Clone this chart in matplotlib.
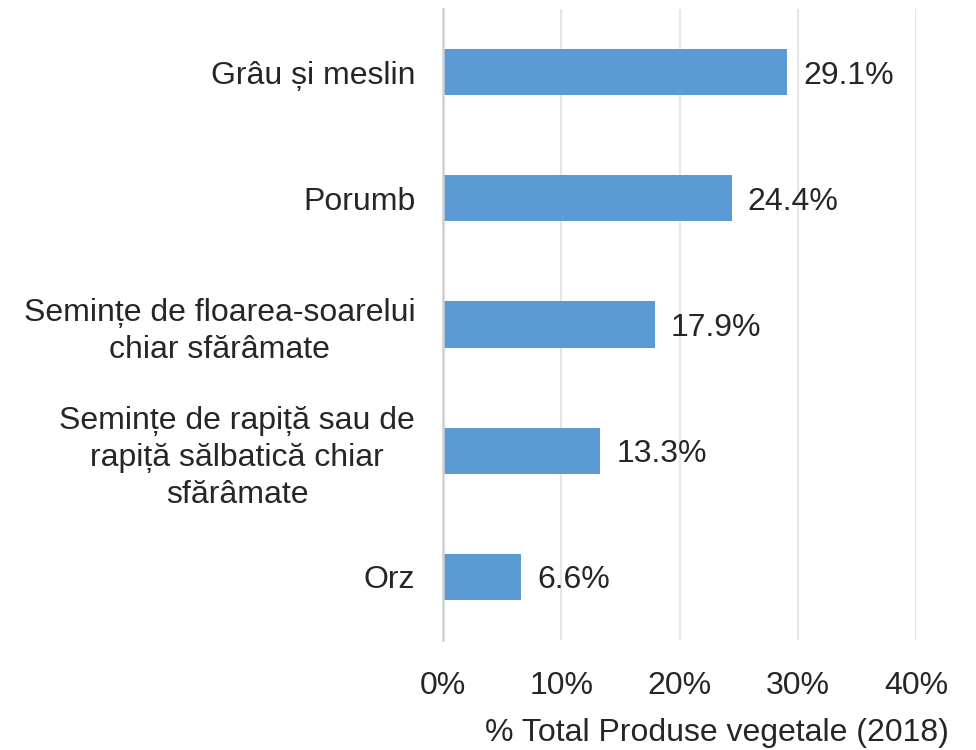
import matplotlib
matplotlib.use("Agg")
import matplotlib.pyplot as plt
from matplotlib.ticker import FuncFormatter

plt.rcParams['font.family'] = ['Liberation Sans', 'DejaVu Sans']

categories = [
    "Grâu și meslin",
    "Porumb",
    "Semințe de floarea-soarelui\nchiar sfărâmate",
    "Semințe de rapiță sau de\nrapiță sălbatică chiar\nsfărâmate",
    "Orz",
]
values = [29.1, 24.4, 17.9, 13.3, 6.6]
x_ticks = [0, 10, 20, 30, 40]
x_label = "% Total Produse vegetale (2018)"

text_color = "#262626"
bar_color = "#5B9BD5"
fs = 23

fig = plt.figure(figsize=(9.76, 7.5), dpi=100)
ax = fig.add_axes([443 / 976, 1 - 640 / 750, (916 - 443) / 976, (640 - 9) / 750])

pos = list(range(len(categories)))
bars = ax.barh(pos, values, height=0.365, color=bar_color, zorder=3)

for p, v in zip(pos, values):
    ax.text(v + 1.35, p, "%.1f%%" % v, va="center_baseline", ha="left",
            fontsize=fs, color=text_color)

ax.set_xlim(0, 40)
ax.set_ylim(len(categories) - 0.5, -0.5)
ax.set_xticks(x_ticks)
ax.xaxis.set_major_formatter(FuncFormatter(lambda x, _: "%d%%" % x))
ax.set_yticks(pos)
ax.set_yticklabels(categories, multialignment="center", linespacing=1.3)

ax.tick_params(axis="both", length=0, labelsize=fs, colors=text_color)
ax.tick_params(axis="y", pad=20)
ax.tick_params(axis="x", pad=22)

ax.grid(axis="x", color="#e6e6e6", linewidth=1.5, zorder=0)
for s in ["top", "right", "bottom"]:
    ax.spines[s].set_visible(False)
ax.spines["left"].set_color("#d0d0d0")
ax.spines["left"].set_linewidth(1.8)
ax.spines["left"].set_zorder(4)

ax.set_xlabel(x_label, fontsize=fs, color=text_color, va="center")
ax.xaxis.set_label_coords(0.579, -0.147)

fig.savefig("out.png", dpi=100)
